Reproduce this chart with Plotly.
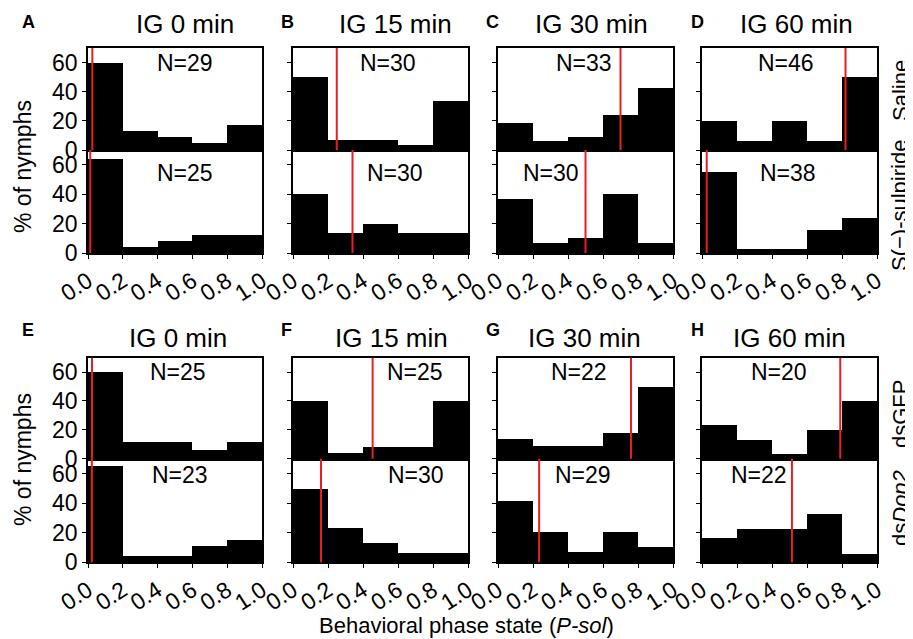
import plotly.graph_objects as go

# ---------------- data ----------------
bin_edges = [0.0, 0.2, 0.4, 0.6, 0.8, 1.0]
tick_labels = ["0.0", "0.2", "0.4", "0.6", "0.8", "1.0"]
ig_minutes = [0, 15, 30, 60]
panel_letters_top = ["A", "B", "C", "D"]
panel_letters_bottom = ["E", "F", "G", "H"]

saline_pct = [[60, 13, 9, 5, 17],
              [50, 6.7, 6.7, 3.3, 33.3],
              [18.2, 6.1, 9.1, 24.2, 42.4],
              [19.6, 6.5, 19.6, 6.5, 50]]
sulpiride_pct = [[64, 4, 8, 12, 12],
                 [40, 13.3, 20, 13.3, 13.3],
                 [36.7, 6.7, 10, 40, 6.7],
                 [55.3, 2.6, 2.6, 15.8, 23.7]]
dsgfp_pct = [[60, 12, 12, 6, 12],
             [40, 4, 8, 8, 40],
             [13.6, 9.1, 9.1, 18.2, 50],
             [23.5, 13, 3.5, 20, 40]]
dsdop2_pct = [[65.2, 4.3, 4.3, 11, 15.3],
              [50, 23.3, 13.3, 6.7, 6.7],
              [41.4, 20.7, 6.9, 20.7, 10.3],
              [16.7, 22.5, 22.5, 33, 5.5]]

saline_n = [29, 30, 33, 46]
sulpiride_n = [25, 30, 30, 38]
dsgfp_n = [25, 25, 22, 20]
dsdop2_n = [23, 30, 29, 22]

saline_median = [0.025, 0.25, 0.70, 0.82]
sulpiride_median = [0.013, 0.34, 0.50, 0.027]
dsgfp_median = [0.023, 0.455, 0.76, 0.79]
dsdop2_median = [0.022, 0.16, 0.235, 0.514]

# ---------------- layout helpers ----------------
# the page body has an 8px margin, so the figure starts 8px in from the window edge
OFF = 8
W, H = 913 - OFF, 639 - OFF
FONT = "Liberation Sans, Arial, sans-serif"


def px(x):
    return (x - OFF) / W


def py(y):
    return 1 - (y - OFF) / H


def ax_suffix(k):
    return "" if k == 1 else str(k)


col_left = [88, 293, 498, 702]
col_right = [262, 468, 673, 877]
# (top, bottom) window-pixel rows for [group][sub]
row_pix = [[(48, 150), (150, 253)], [(357.7, 458.7), (458.7, 562.3)]]

groups = [
    [(saline_pct, saline_n, saline_median), (sulpiride_pct, sulpiride_n, sulpiride_median)],
    [(dsgfp_pct, dsgfp_n, dsgfp_median), (dsdop2_pct, dsdop2_n, dsdop2_median)],
]

# N-label pixel centers [group][sub][col]
n_pos = [
    [[(185, 63), (388, 63), (584, 63), (786, 63)],
     [(185, 173), (395, 173), (551, 173), (788, 173)]],
    [[(178, 372), (415, 372), (579, 372), (779, 372)],
     [(180, 475), (416, 475), (583, 475), (759, 475)]],
]
title_pos = [[(185, 24), (395, 24), (591, 24), (796, 24)],
             [(178, 338), (391, 338), (584, 338), (789, 338)]]
letter_pos = [[(28, 22), (287, 22), (493, 22), (697, 22)],
              [(28, 330), (286, 330), (493, 330), (697, 330)]]

centers = [(bin_edges[i] + bin_edges[i + 1]) / 2 for i in range(len(bin_edges) - 1)]
widths = [bin_edges[i + 1] - bin_edges[i] for i in range(len(bin_edges) - 1)]

fig = go.Figure()
layout = {}
shapes = []
annotations = []

for g in range(2):
    for s in range(2):
        pct, ns, meds = groups[g][s]
        top, bot = row_pix[g][s]
        for c in range(4):
            k = g * 8 + s * 4 + c + 1
            sfx = ax_suffix(k)
            xa = "x" + sfx
            ya = "y" + sfx
            fig.add_trace(go.Bar(
                x=centers, y=pct[c], width=widths,
                marker=dict(color="black", line=dict(width=0)),
                xaxis=xa, yaxis=ya, showlegend=False, hoverinfo="skip"))
            layout["xaxis" + sfx] = dict(
                domain=[px(col_left[c]), px(col_right[c])], range=[0, 1],
                anchor=ya, showline=True, mirror=True, linecolor="black", linewidth=1.5,
                ticks="outside" if s == 1 else "", ticklen=4, tickcolor="black",
                showticklabels=(s == 1), tickvals=bin_edges, ticktext=tick_labels,
                tickangle=-33, tickfont=dict(size=23, color="black", family=FONT),
                showgrid=False, zeroline=False, fixedrange=True, automargin=False)
            layout["yaxis" + sfx] = dict(
                domain=[py(bot), py(top)], range=[0, 70], anchor=xa,
                showline=True, mirror=True, linecolor="black", linewidth=1.5,
                ticks="outside", ticklen=4, tickcolor="black",
                tickvals=[0, 20, 40, 60], showticklabels=(c == 0),
                tickfont=dict(size=23, color="black", family=FONT),
                showgrid=False, zeroline=False, fixedrange=True, automargin=False)
            shapes.append(dict(type="line", xref=xa, yref=ya + " domain",
                               x0=meds[c], x1=meds[c], y0=0, y1=1,
                               line=dict(color="#ec1c24", width=2)))
            nx, ny = n_pos[g][s][c]
            annotations.append(dict(text="N=%d" % ns[c], x=px(nx), y=py(ny),
                                    xref="paper", yref="paper", showarrow=False,
                                    xanchor="center", yanchor="middle",
                                    font=dict(size=23, color="black", family=FONT)))

letters = [panel_letters_top, panel_letters_bottom]
for g in range(2):
    for c in range(4):
        tx, ty = title_pos[g][c]
        annotations.append(dict(text="IG %d min" % ig_minutes[c], x=px(tx), y=py(ty),
                                xref="paper", yref="paper", showarrow=False,
                                xanchor="center", yanchor="middle",
                                font=dict(size=26, color="black", family=FONT)))
        lx, ly = letter_pos[g][c]
        annotations.append(dict(text="<b>%s</b>" % letters[g][c], x=px(lx), y=py(ly),
                                xref="paper", yref="paper", showarrow=False,
                                xanchor="center", yanchor="middle",
                                font=dict(size=18, color="black", family=FONT)))

# y titles
for cy in (167, 460):
    annotations.append(dict(text="% of nymphs", x=px(23), y=py(cy), xref="paper", yref="paper",
                            showarrow=False, textangle=-90, xanchor="center", yanchor="middle",
                            font=dict(size=23, color="black", family=FONT)))

# right-hand condition labels
for txt, cy in (("Saline", 91), ("S(\u2212)-sulpiride", 206), ("dsGFP", 414), ("ds<i>Dop2</i>", 508)):
    annotations.append(dict(text=txt, x=px(900), y=py(cy), xref="paper", yref="paper",
                            showarrow=False, textangle=-90, xanchor="center", yanchor="middle",
                            font=dict(size=22, color="black", family=FONT)))

annotations.append(dict(text="Behavioral phase state (<i>P-sol</i>)", x=px(466), y=py(625),
                        xref="paper", yref="paper", showarrow=False,
                        xanchor="center", yanchor="middle",
                        font=dict(size=22, color="black", family=FONT)))

fig.update_layout(
    width=W, height=H, margin=dict(l=0, r=0, t=0, b=0, autoexpand=False),
    paper_bgcolor="white", plot_bgcolor="white",
    font=dict(family=FONT, color="black"),
    bargap=0, shapes=shapes, annotations=annotations, **layout)

fig.write_html("out.html")
